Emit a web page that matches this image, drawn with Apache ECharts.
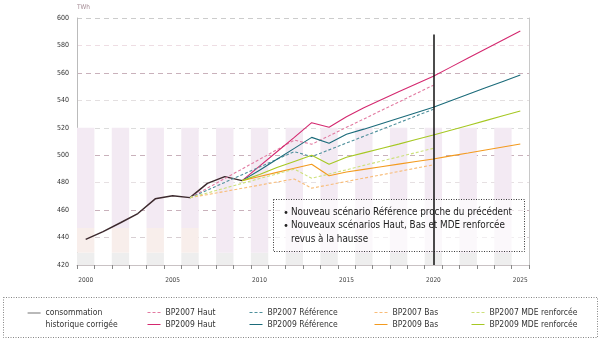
<!DOCTYPE html>
<html><head><meta charset="utf-8">
<script src="https://cdn.jsdelivr.net/npm/echarts@6/dist/echarts.min.js"></script>
<style>html,body{margin:0;padding:0;background:#fff}#c{width:604px;height:343px}</style>
</head><body><div id="c"></div>
<script>
const years = ['2000','2001','2002','2003','2004','2005','2006','2007','2008','2009','2010','2011','2012','2013','2014','2015','2016','2017','2018','2019','2020','2021','2022','2023','2024','2025'];
const yTicks = [420,440,460,480,500,520,540,560,580,600];
const N = null;
const history   = [438.7,444.3,450.8,457.5,468.2,470.4,469.1,479.5,484.4,481.5,N,N,N,N,N,N,N,N,N,N,N,N,N,N,N,N];
const bp07Haut  = [N,N,N,N,N,N,469.1,476,483,490,497,504,511,508,514.1,520.3,526.4,532.6,538.7,544.9,551,N,N,N,N,N];
const bp07Ref   = [N,N,N,N,N,N,469.1,474.6,480.2,485.8,491.4,497,502.6,499,503.9,508.9,513.8,518.7,523.6,528.6,533.5,N,N,N,N,N];
const bp07Bas   = [N,N,N,N,N,N,469.1,471.3,473.6,475.9,478.2,480.5,482.7,476,478.4,480.9,483.3,485.7,488.1,490.6,493,N,N,N,N,N];
const bp07Mde   = [N,N,N,N,N,N,469.1,472.5,476,479.5,483,486.4,489.9,483.2,486.3,489.4,492.6,495.7,498.8,501.9,505,N,N,N,N,N];
const bp09Haut  = [N,N,N,N,N,N,N,N,N,481.5,492,502.5,513,523.7,520.4,528,534.6,540.4,546.2,551.9,557.6,564.2,570.8,577.4,584,590.6];
const bp09Ref   = [N,N,N,N,N,N,N,N,N,481.5,489,497,505,513,508.7,515.3,519,523,527,531,535,539.7,544.4,549.1,553.8,558.5];
const bp09Bas   = [N,N,N,N,N,N,N,N,N,481.5,484.5,487.5,490.5,493.4,485.1,487.8,489.7,491.6,493.5,495.4,497.3,499.5,501.6,503.8,506,508.2];
const bp09Mde   = [N,N,N,N,N,N,N,N,N,481.5,486,491,495.5,500,493.5,498.5,501.7,504.9,508.1,511.4,514.7,518.2,521.7,525.2,528.7,532.2];
const refYear = '2020';
const refTop = 588;
const noteLines = ['Nouveau scénario Référence proche du précédent','Nouveaux scénarios Haut, Bas et MDE renforcée','revus à la hausse'];

const chart = echarts.init(document.getElementById('c'), null, {renderer:'canvas'});
const FONT = "'Liberation Sans Narrow','DejaVu Sans Condensed','Noto Sans',sans-serif";

const even = years.map((y,i)=> i%2===0);
const bandGrey = years.map((y,i)=> even[i] ? 429 : N);
const bandPeach = years.map((y,i)=> even[i] ? (i<=6 ? 18 : 0) : N);
const bandLav = years.map((y,i)=> even[i] ? (i<=6 ? 73 : 91) : N);

function lineSeries(name, data, color, dashed, width){
  return {name, type:'line', data, symbol:'none', showSymbol:false, z:2, connectNulls:false,
    lineStyle:{color, width: width||1.1, type: dashed ? [3,2] : 'solid'},
    itemStyle:{color}, emphasis:{disabled:true}};
}
const cPinkS='#d4286f', cPinkD='#e27aa1', cTealS='#1b6b7a', cTealD='#4f909c',
      cOrS='#f39a1e', cOrD='#f8bc78', cGrS='#a6c823', cGrD='#cde07a';

const histName = 'consommation historique corrigée';
const legendCommon = {orient:'vertical', itemWidth:13, itemHeight:8, itemGap:3, padding:0, selectedMode:false,
  itemStyle:{opacity:0, borderWidth:0}, lineStyle:{width:1},
  textStyle:{fontSize:8.5, color:'#333', fontFamily:FONT}};

const option = {
  animation:false,
  grid:{left:77, right:75, top:18, bottom:78},
  xAxis:{type:'category', data:years, boundaryGap:true,
    axisLine:{lineStyle:{color:'#c9c2c4', width:1}},
    axisTick:{show:true, interval:0, length:4, lineStyle:{color:'#888'}},
    axisLabel:{interval:(i)=> i%5===0, fontSize:6.5, color:'#444', margin:12, fontFamily:FONT},
    splitLine:{show:false}},
  yAxis:[{type:'value', min:420, max:600, interval:20,
    name:'TWh', nameLocation:'end', nameGap:7,
    nameTextStyle:{fontSize:6.5, color:'#a58d96', align:'left', fontFamily:FONT},
    axisLine:{show:true, lineStyle:{color:'#bbb'}},
    axisTick:{show:false},
    axisLabel:{fontSize:7, color:'#333', margin:8, fontFamily:FONT},
    splitLine:{show:true, lineStyle:{type:[5,4], width:1, color:['#ccc','#d8cfd3','#c9b1bb','#e6e0e2','#c9b1bb','#dcdcdc','#e3dfe0','#c9b1bb','#eedde3']}}},
   {type:'value', min:420, max:600, interval:20, position:'right',
    axisLine:{show:true, lineStyle:{color:'#c8c8c8'}}, axisTick:{show:false}, axisLabel:{show:false}, splitLine:{show:false}}],
  legend:[
    Object.assign({}, legendCommon, {data:[{name:histName, lineStyle:{color:'#8a8a8a', width:1.2}}], left:27, top:295,
      formatter:()=> ' \nconsommation\nhistorique corrigée',
      textStyle:{fontSize:8.5, color:'#333', fontFamily:FONT, lineHeight:12}}),
    Object.assign({}, legendCommon, {data:['BP2007 Haut','BP2009 Haut'], left:147, top:308}),
    Object.assign({}, legendCommon, {data:['BP2007 Référence','BP2009 Référence'], left:249, top:308}),
    Object.assign({}, legendCommon, {data:['BP2007 Bas','BP2009 Bas'], left:374, top:308}),
    Object.assign({}, legendCommon, {data:['BP2007 MDE renforcée','BP2009 MDE renforcée'], left:471, top:308})
  ],
  graphic:[
    {type:'rect', shape:{x:3.5, y:297.5, width:594, height:40}, style:{fill:null, stroke:'#666', lineWidth:0.8, lineDash:[1,1.5]}, z:10},
    {type:'rect', shape:{x:273.5, y:199.5, width:251, height:52}, style:{fill:'rgba(255,255,255,0.65)', stroke:'#222', lineWidth:0.9, lineDash:[1,1.5]}, z:3},
    {type:'circle', shape:{cx:286, cy:212.5, r:1.4}, style:{fill:'#222'}, z:4},
    {type:'circle', shape:{cx:286, cy:225.5, r:1.4}, style:{fill:'#222'}, z:4},
    {type:'text', x:291, y:212.5, style:{text:noteLines[0], font:"9.8px "+FONT, fill:'#222', verticalAlign:'middle'}, z:4},
    {type:'text', x:291, y:225.5, style:{text:noteLines[1], font:"9.8px "+FONT, fill:'#222', verticalAlign:'middle'}, z:4},
    {type:'text', x:291, y:239.5, style:{text:noteLines[2], font:"9.8px "+FONT, fill:'#222', verticalAlign:'middle'}, z:4}
  ],
  series:[
    {type:'bar', stack:'band', data:bandGrey, barWidth:'100%', itemStyle:{color:'#eeeeee'}, z:1, silent:true},
    {type:'bar', stack:'band', data:bandPeach, barWidth:'100%', itemStyle:{color:'#f8eeeb'}, z:1, silent:true},
    {type:'bar', stack:'band', data:bandLav, barWidth:'100%', itemStyle:{color:'#f3eaf3'}, z:1, silent:true},
    lineSeries(histName, history, '#3d2a2e', false, 1.5),
    lineSeries('BP2007 Haut', bp07Haut, cPinkD, true),
    lineSeries('BP2009 Haut', bp09Haut, cPinkS, false),
    lineSeries('BP2007 Référence', bp07Ref, cTealD, true),
    lineSeries('BP2009 Référence', bp09Ref, cTealS, false),
    lineSeries('BP2007 Bas', bp07Bas, cOrD, true),
    lineSeries('BP2009 Bas', bp09Bas, cOrS, false),
    lineSeries('BP2007 MDE renforcée', bp07Mde, cGrD, true),
    lineSeries('BP2009 MDE renforcée', bp09Mde, cGrS, false),
    {type:'line', data:[], z:6, markLine:{silent:true, symbol:'none', label:{show:false}, lineStyle:{color:'#111', width:1.5, type:'solid'},
      data:[[{coord:[refYear,420]},{coord:[refYear,refTop]}]]}}
  ]
};
chart.setOption(option);
</script></body></html>
